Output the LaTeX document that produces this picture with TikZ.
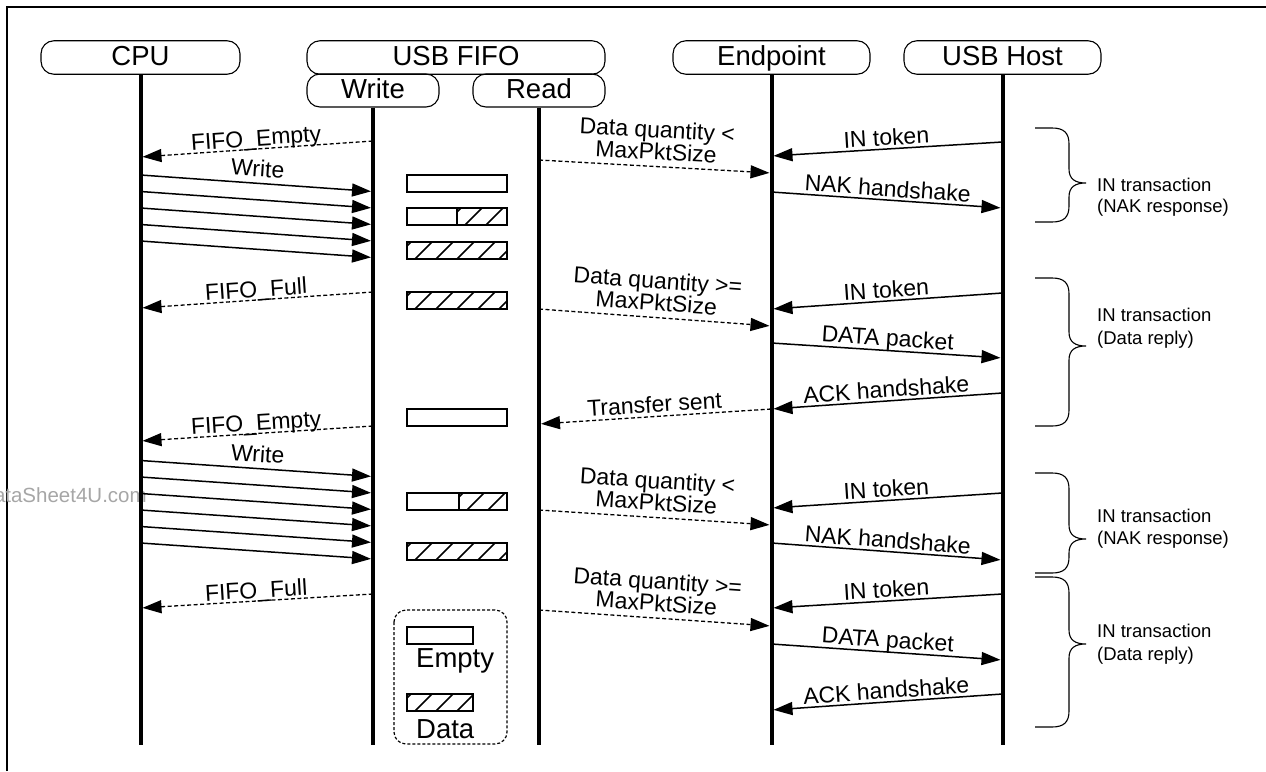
\documentclass[tikz,border=0pt]{standalone}
\usepackage{fontspec}
\setmainfont{Liberation Sans}
\usetikzlibrary{arrows.meta}
\newcommand{\hdrfont}{\fontsize{27.5}{30}\selectfont}
\newcommand{\lblfont}{\fontsize{23}{22}\selectfont}
\newcommand{\sidefont}{\fontsize{18.5}{21}\selectfont}
% hatched rectangle: x1, ytop, x2, ybottom
\newcommand{\hatchrect}[4]{%
  \begin{scope}
    \clip (#1,#2) rectangle (#3,#4);
    \foreach \k in {-1,...,6} {\draw[line width=1.6pt] ({#1+8+21*\k},#4) -- ++(20,-20);}
  \end{scope}}
% curly brace: top, tip, bottom
\newcommand{\curlyb}[3]{%
  \draw[brc] (1035,#1) -- (1052,#1) .. controls (1064,#1) and (1069,#1+5) .. (1069,#1+16)
    -- (1069,#2-14) .. controls (1069,#2-4) and (1075,#2) .. (1086,#2)
    .. controls (1075,#2) and (1069,#2+4) .. (1069,#2+14)
    -- (1069,#3-16) .. controls (1069,#3-5) and (1064,#3) .. (1052,#3) -- (1035,#3);}
\begin{document}
\begin{tikzpicture}[x=1pt,y=-1pt,
  hdr/.style={draw, line width=1.1pt, rounded corners=13pt, inner sep=0pt,
    text height=20pt, text depth=5pt, minimum height=33.5pt, font=\hdrfont},
  life/.style={line width=4pt},
  msg/.style={line width=1.5pt},
  dmsg/.style={line width=1.3pt, dash pattern=on 4pt off 2.5pt},
  tipS/.style={{Triangle[length=19pt,width=13pt]}-, shorten <=2pt},
  tipE/.style={-{Triangle[length=19pt,width=13pt]}, shorten >=2pt},
  lbl/.style={midway, sloped, anchor=base, inner sep=0pt, font=\lblfont},
  lbltwo/.style={midway, sloped, anchor=south, align=center, inner sep=0pt, font=\lblfont, yshift=6pt},
  side/.style={anchor=base west, inner sep=0pt, font=\sidefont},
  brc/.style={line width=1.1pt},
  box/.style={line width=1.4pt},
]
\useasboundingbox (0,0) rectangle (1266,771);
% frame
\draw[line width=1.5pt] (7,771) -- (7,7) -- (1266,7);
% watermark
\begin{scope}
  \clip (0,0) rectangle (1266,771);
  \node[anchor=base west, inner sep=0pt, text=black!35, font=\fontsize{20.5}{22}\selectfont] (wm) at (-21,502) {DataSheet4U.com};
\end{scope}
% headers
\node[hdr, minimum width=199pt] (cpu) at (140.5,57.5) {CPU};
\node[hdr, minimum width=298pt] (fifo) at (456,57.5) {USB FIFO};
\node[hdr, minimum width=132pt, minimum height=33pt] (write) at (373,90.5) {Write};
\node[hdr, minimum width=132pt, minimum height=33pt] (read) at (539,90.5) {Read};
\node[hdr, minimum width=197pt] (ep) at (771.5,57.5) {Endpoint};
\node[hdr, minimum width=197pt] (host) at (1002.5,57.5) {USB Host};
% lifelines
\draw[life] (cpu.south) -- (cpu |- 0,745);
\draw[life] (write.south) -- (write |- 0,745);
\draw[life] (read.south) -- (read |- 0,745);
\draw[life] (ep.south) -- (ep |- 0,745);
\draw[life] (host.south) -- (host |- 0,745);
% CPU <-> FIFO write side
\draw[dmsg, tipS] (cpu |- 0,157) -- (write |- 0,141) node[lbl, yshift=3pt] {FIFO\_Empty};
\draw[msg, tipE] (cpu |- 0,175) -- (write |- 0,191.5) node[lbl, yshift=6.5pt] {Write};
\foreach \k [evaluate=\k as \ya using 175+16.5*\k, evaluate=\k as \yb using 191.5+16.5*\k] in {1,...,4}
  {\draw[msg, tipE] (cpu |- 0,\ya) -- (write |- 0,\yb);}
\draw[dmsg, tipS] (cpu |- 0,308) -- (write |- 0,292) node[lbl, yshift=3pt] {FIFO\_Full};
\draw[dmsg, tipS] (cpu |- 0,441) -- (write |- 0,426) node[lbl, yshift=3pt] {FIFO\_Empty};
\draw[msg, tipE] (cpu |- 0,460.5) -- (write |- 0,476.5) node[lbl, yshift=6.5pt] {Write};
\foreach \k [evaluate=\k as \ya using 460.5+16.5*\k, evaluate=\k as \yb using 476.5+16.5*\k] in {1,...,5}
  {\draw[msg, tipE] (cpu |- 0,\ya) -- (write |- 0,\yb);}
\draw[dmsg, tipS] (cpu |- 0,608) -- (write |- 0,594) node[lbl, yshift=3pt] {FIFO\_Full};
% FIFO state boxes
\draw[box] (407,175) rectangle (507,192);
\hatchrect{457}{208}{507}{225}
\draw[box] (407,208) rectangle (507,225) (457,208) -- (457,225);
\hatchrect{407}{242}{507}{259}
\draw[box] (407,242) rectangle (507,259);
\hatchrect{407}{292}{507}{309}
\draw[box] (407,292) rectangle (507,309);
\draw[box] (407,409) rectangle (507,426);
\hatchrect{459}{493}{507}{510}
\draw[box] (407,493) rectangle (507,510) (459,493) -- (459,510);
\hatchrect{407}{543}{507}{560}
\draw[box] (407,543) rectangle (507,560);
% legend
\draw[line width=1.2pt, dash pattern=on 3pt off 2pt, rounded corners=12pt] (394,610) rectangle (507,744);
\draw[box] (407,627) rectangle (473,644);
\node[anchor=base west, inner sep=0pt, font=\hdrfont] (lempty) at (416,667) {Empty};
\hatchrect{407}{694}{473}{711}
\draw[box] (407,694) rectangle (473,711);
\node[anchor=base west, inner sep=0pt, font=\hdrfont] (ldata) at (416,738) {Data};
% Read/Endpoint/Host messages
\draw[dmsg, tipE] (read |- 0,160) -- (ep |- 0,173) node[lbltwo] {Data quantity <\\MaxPktSize};
\draw[msg, tipS] (ep |- 0,156) -- (host |- 0,142) node[lbl, yshift=3.5pt] {IN token};
\draw[msg, tipE] (ep |- 0,192) -- (host |- 0,208) node[lbl, yshift=3.5pt] {NAK handshake};
\draw[dmsg, tipE] (read |- 0,309) -- (ep |- 0,326) node[lbltwo] {Data quantity >=\\MaxPktSize};
\draw[msg, tipS] (ep |- 0,309) -- (host |- 0,293) node[lbl, yshift=3.5pt] {IN token};
\draw[msg, tipE] (ep |- 0,343) -- (host |- 0,358) node[lbl, yshift=4.5pt] {DATA packet};
\draw[msg, tipS] (ep |- 0,409) -- (host |- 0,393) node[lbl, yshift=3.5pt] {ACK handshake};
\draw[dmsg, tipS] (read |- 0,424) -- (ep |- 0,409) node[lbl, yshift=4pt] {Transfer sent};
\draw[dmsg, tipE] (read |- 0,510) -- (ep |- 0,525) node[lbltwo] {Data quantity <\\MaxPktSize};
\draw[msg, tipS] (ep |- 0,508) -- (host |- 0,493) node[lbl, yshift=3.5pt] {IN token};
\draw[msg, tipE] (ep |- 0,543) -- (host |- 0,560) node[lbl, yshift=3.5pt] {NAK handshake};
\draw[dmsg, tipE] (read |- 0,610) -- (ep |- 0,626) node[lbltwo] {Data quantity >=\\MaxPktSize};
\draw[msg, tipS] (ep |- 0,608) -- (host |- 0,594) node[lbl, yshift=3.5pt] {IN token};
\draw[msg, tipE] (ep |- 0,644) -- (host |- 0,660) node[lbl, yshift=4.5pt] {DATA packet};
\draw[msg, tipS] (ep |- 0,710) -- (host |- 0,694) node[lbl, yshift=3.5pt] {ACK handshake};
% braces and transaction texts
\curlyb{128}{183}{222}
\node[side] (t1a) at (1097,191) {IN transaction};
\node[side] (t1b) at (1097,212) {(NAK response)};
\curlyb{278}{346}{426}
\node[side] (t2a) at (1097,321) {IN transaction};
\node[side] (t2b) at (1097,344) {(Data reply)};
\curlyb{473}{539}{573}
\node[side] (t3a) at (1097,522) {IN transaction};
\node[side] (t3b) at (1097,544) {(NAK response)};
\curlyb{577}{644}{727}
\node[side] (t4a) at (1097,637) {IN transaction};
\node[side] (t4b) at (1097,660) {(Data reply)};
\end{tikzpicture}
\end{document}
